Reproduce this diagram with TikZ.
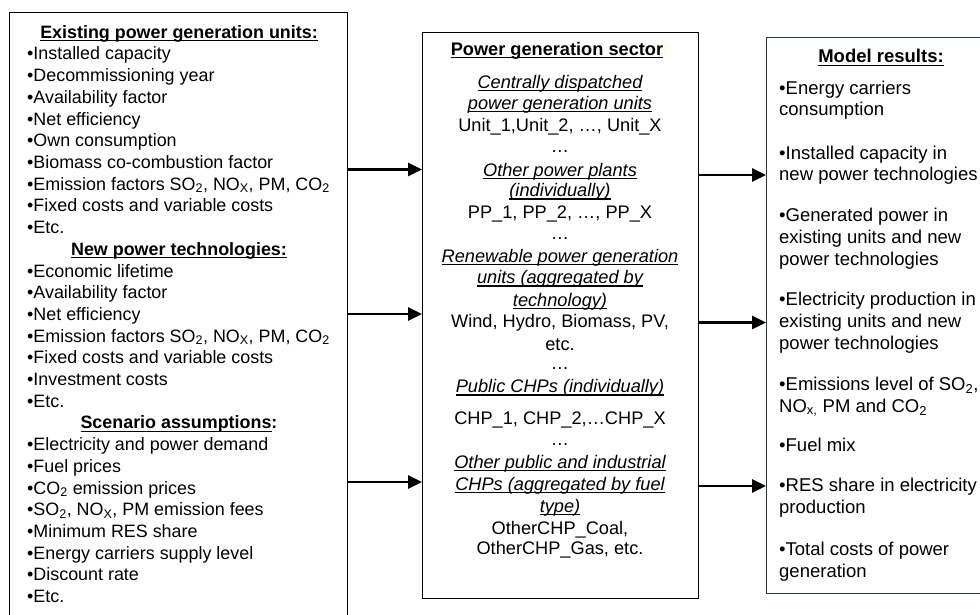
\documentclass[tikz,border=0pt]{standalone}
\usepackage{fontspec}
\setmainfont{Liberation Sans}
\usetikzlibrary{arrows.meta}
\definecolor{navybox}{RGB}{31,56,100}
\newcommand\ulx[1]{\setbox0\hbox{#1}\rlap{\rule[-2.8pt]{\wd0}{1.2pt}}\box0}
\newcommand\sbx[1]{\textsubscript{#1}}
\newcommand\fsL{\fontsize{17.9}{21.7}\selectfont}
\newcommand\fsM{\fontsize{18.2}{22}\selectfont}
\newcommand\fsR{\fontsize{18.5}{22}\selectfont}
\begin{document}
\begin{tikzpicture}[x=1pt,y=-1pt,
  boxl/.style={draw, line width=1.2pt, anchor=north west, inner sep=0pt},
  lt/.style={inner sep=0pt, anchor=base west, font=\fsL},
  lh/.style={inner sep=0pt, anchor=base, font=\fsL},
  mt/.style={inner sep=0pt, anchor=base, font=\fsM},
  rt/.style={inner sep=0pt, anchor=base west, font=\fsR},
  rh/.style={inner sep=0pt, anchor=base, font=\fsR},
  arr/.style={line width=2.7pt, -{Triangle[length=14pt,width=13pt]}}]
\useasboundingbox (0,0) rectangle (980,615);
\fill[white] (0,0) rectangle (980,615);
% boxes
\node[boxl, minimum width=338pt, minimum height=620pt] (inbox) at (9,12) {};
\node[boxl, minimum width=276pt, minimum height=566pt] (midbox) at (422,32) {};
\node[boxl, draw=navybox, minimum width=240pt, minimum height=556pt] (outbox) at (766,36.7) {};
% left box text
\node[lh] (Lh0) at (179,38.3) {\ulx{\bfseries Existing power generation units:}};
\node[lh] (Lh10) at (179,{38.3+21.7*10}) {\ulx{\bfseries New power technologies:}};
\node[lh] (Lh18) at (179,{38.3+21.7*18}) {\ulx{\bfseries Scenario assumptions}\textbf{:}};
\foreach \i/\t in {
  1/{•Installed capacity},
  2/{•Decommissioning year},
  3/{•Availability factor},
  4/{•Net efficiency},
  5/{•Own consumption},
  6/{•Biomass co-combustion factor},
  7/{•Emission factors SO\sbx{2}, NO\sbx{X}, PM, CO\sbx{2}},
  8/{•Fixed costs and variable costs},
  9/{•Etc.},
  11/{•Economic lifetime},
  12/{•Availability factor},
  13/{•Net efficiency},
  14/{•Emission factors SO\sbx{2}, NO\sbx{X}, PM, CO\sbx{2}},
  15/{•Fixed costs and variable costs},
  16/{•Investment costs},
  17/{•Etc.},
  19/{•Electricity and power demand},
  20/{•Fuel prices},
  21/{•CO\sbx{2} emission prices},
  22/{•SO\sbx{2}, NO\sbx{X}, PM emission fees},
  23/{•Minimum RES share},
  24/{•Energy carriers supply level},
  25/{•Discount rate},
  26/{•Etc.}}
  \node[lt] (L\i) at (27,{38.3+21.7*\i}) {\t};
% middle box text
\node[mt] (Mh) at (560,55.3) {\ulx{\bfseries Power generation sector}{\color{yellow!35}\bfseries :}};
\foreach \k/\y/\t in {
  1/88.3/{\ulx{\itshape Centrally dispatched}},
  2/109.3/{\ulx{\itshape power generation units}},
  3/132/{Unit\_1,Unit\_2, …, Unit\_X},
  4/152.5/{…},
  5/176/{\ulx{\itshape Other power plants}},
  6/196.7/{\ulx{\itshape (individually)}},
  7/218.3/{PP\_1, PP\_2, …, PP\_X},
  8/239/{…},
  9/262/{\ulx{\itshape Renewable power generation}},
  10/283.7/{\ulx{\itshape units (aggregated by}},
  11/306/{\ulx{\itshape technology)}},
  12/327.7/{Wind, Hydro, Biomass, PV,},
  13/350/{etc.},
  14/369.5/{…},
  15/392.7/{\ulx{\itshape Public CHPs (individually)}},
  16/424.3/{CHP\_1, CHP\_2,…CHP\_X},
  17/445/{…},
  18/468.3/{\ulx{\itshape Other public and industrial}},
  19/490/{\ulx{\itshape CHPs (aggregated by fuel}},
  20/512/{\ulx{\itshape type)}},
  21/534.3/{OtherCHP\_Coal,},
  22/554.3/{OtherCHP\_Gas, etc.}}
  \node[mt] (M\k) at (560,\y) {\t};
% right box text
\node[rh] (Rh) at (881,63) {\ulx{\bfseries Model results:}};
\foreach \k/\y/\t in {
  1/94.3/{•Energy carriers},
  2/116/{consumption},
  3/159.5/{•Installed capacity in},
  4/181/{new power technologies},
  5/221/{•Generated power in},
  6/243/{existing units and new},
  7/265/{power technologies},
  8/305/{•Electricity production in},
  9/327/{existing units and new},
  10/349/{power technologies},
  11/390/{•Emissions level of SO\sbx{2},},
  12/412/{NO\sbx{x,} PM and CO\sbx{2}},
  13/451/{•Fuel mix},
  14/491/{•RES share in electricity},
  15/513/{production},
  16/555/{•Total costs of power},
  17/577/{generation}}
  \node[rt] (R\k) at (779,\y) {\t};
% arrows
\coordinate (ya) at (0,169.5);
\coordinate (yb) at (0,314);
\coordinate (yc) at (0,482);
\coordinate (yd) at (0,175);
\coordinate (ye) at (0,322.5);
\coordinate (yf) at (0,486);
\draw[arr] (inbox.east |- ya) -- (midbox.west |- ya);
\draw[arr] (inbox.east |- yb) -- (midbox.west |- yb);
\draw[arr] (inbox.east |- yc) -- (midbox.west |- yc);
\draw[arr] (midbox.east |- yd) -- (outbox.west |- yd);
\draw[arr] (midbox.east |- ye) -- (outbox.west |- ye);
\draw[arr] (midbox.east |- yf) -- (outbox.west |- yf);
\end{tikzpicture}
\end{document}
